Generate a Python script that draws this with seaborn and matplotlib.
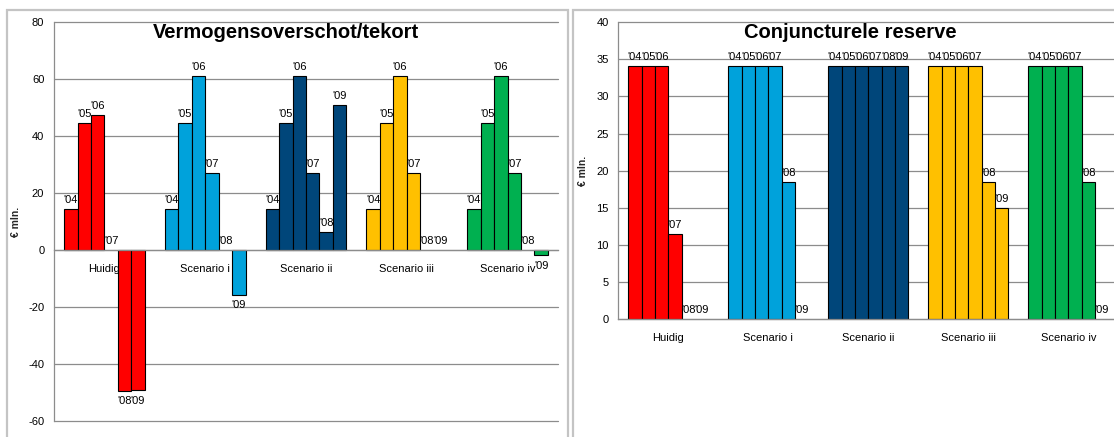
import matplotlib
matplotlib.use('Agg')
import matplotlib.pyplot as plt
import seaborn as sns
import pandas as pd
from matplotlib.patches import Rectangle

categories = ['Huidig', 'Scenario i', 'Scenario ii', 'Scenario iii', 'Scenario iv']
years = ["'04", "'05", "'06", "'07", "'08", "'09"]
colors = ['#FF0000', '#00A2DB', '#00467A', '#FFC000', '#00B050']

# Vermogensoverschot/tekort (EUR mln.), per scenario, years '04..'09
verm_huidig = [14.3, 44.5, 47.3, 0, -49.4, -49.2]
verm_s1 = [14.3, 44.5, 61.0, 27.1, 0, -15.7]
verm_s2 = [14.3, 44.5, 61.0, 27.1, 6.3, 50.9]
verm_s3 = [14.3, 44.5, 61.0, 27.1, 0, 0]
verm_s4 = [14.3, 44.5, 61.0, 27.1, 0, -1.9]

# Conjuncturele reserve (EUR mln.)
res_huidig = [34.1, 34.1, 34.1, 11.4, 0, 0]
res_s1 = [34.1, 34.1, 34.1, 34.1, 18.5, 0]
res_s2 = [34.1, 34.1, 34.1, 34.1, 34.1, 34.1]
res_s3 = [34.1, 34.1, 34.1, 34.1, 18.5, 15.0]
res_s4 = [34.1, 34.1, 34.1, 34.1, 18.5, 0]


def long_table(series):
    rows = []
    for cat, vals in zip(categories, series):
        for yr, v in zip(years, vals):
            rows.append({'categorie': cat, 'jaar': yr, 'waarde': v})
    return pd.DataFrame(rows)


sns.set_style('white')
plt.rcParams['font.family'] = ['Liberation Sans', 'DejaVu Sans']
plt.rcParams['axes.unicode_minus'] = False
plt.rcParams['text.color'] = 'black'
plt.rcParams['xtick.labelcolor'] = 'black'
plt.rcParams['ytick.labelcolor'] = 'black'

W, H = 1114, 437
fig = plt.figure(figsize=(W / 100, H / 100), dpi=100)

# chart frames
fig.add_artist(Rectangle((7.3 / W, -0.1), (567.5 - 7.3) / W, 1.1 - 10 / H,
                         transform=fig.transFigure, fill=False,
                         edgecolor='#C4C4C4', lw=1.6))
fig.add_artist(Rectangle((572.7 / W, -0.1), 0.5, 1.1 - 10 / H,
                         transform=fig.transFigure, fill=False,
                         edgecolor='#C4C4C4', lw=1.6))

ax1 = fig.add_axes([54 / W, (H - 420.7) / H, 504 / W, 398.3 / H])
ax2 = fig.add_axes([618.3 / W, (H - 319) / H, 500 / W, 296.7 / H])


def draw(ax, series, ylim, step, title, title_x):
    df = long_table(series)
    sns.barplot(data=df, x='categorie', y='waarde', hue='jaar',
                order=categories, hue_order=years, width=0.8,
                palette=['#888888'] * 6, saturation=1, errorbar=None,
                edgecolor='black', linewidth=0.8, legend=False, ax=ax)
    for j, cont in enumerate(ax.containers):
        for bar in cont:
            h = bar.get_height()
            cx = bar.get_x() + bar.get_width() / 2
            bar.set_facecolor(colors[int(round(cx))])
            if h == 0:
                bar.set_linewidth(0)
            if h >= 0:
                ax.annotate(years[j], (cx, h), xytext=(0, 3),
                            textcoords='offset points', ha='center',
                            va='bottom', fontsize=8)
            else:
                ax.annotate(years[j], (cx, h), xytext=(0, -4),
                            textcoords='offset points', ha='center',
                            va='top', fontsize=8)

    ax.set_ylim(*ylim)
    ax.set_yticks(range(ylim[0], ylim[1] + 1, step))
    ax.set_xlim(-0.5, 4.5)
    ax.set_axisbelow(True)
    ax.yaxis.grid(True, color='#8C8C8C', lw=0.9)
    for gl in ax.get_ygridlines():
        gl.set_clip_on(False)
    ax.xaxis.grid(False)
    for s in ['top', 'right']:
        ax.spines[s].set_visible(False)
    for s in ['left', 'bottom']:
        ax.spines[s].set_color('#8C8C8C')
        ax.spines[s].set_linewidth(0.9)
    ax.spines['bottom'].set_position(('data', 0))
    ax.set_xticks([x - 0.5 for x in range(6)], minor=True)
    ax.tick_params(axis='x', which='major', length=0, pad=10, labelsize=8)
    ax.tick_params(axis='x', which='minor', length=4, direction='out',
                   color='#8C8C8C')
    ax.tick_params(axis='y', length=4, direction='out', color='#8C8C8C',
                   labelsize=8, pad=3)
    ax.set_xlabel('')
    ax.set_ylabel('€ mln.', fontweight='bold', fontsize=7.5)
    ax.set_facecolor('none')
    fig.text(title_x / W, 1 - 38 / H, title, ha='center', va='baseline',
             fontsize=14.5, fontweight='bold')


draw(ax1, [verm_huidig, verm_s1, verm_s2, verm_s3, verm_s4], (-60, 80), 20,
     'Vermogensoverschot/tekort', 286)
ax1.yaxis.set_label_coords(-0.065, 0.5)

draw(ax2, [res_huidig, res_s1, res_s2, res_s3, res_s4], (0, 40), 5,
     'Conjuncturele reserve', 850)
ax2.yaxis.set_label_coords(-0.061, 0.5)

fig.savefig('out.png', dpi=100)
